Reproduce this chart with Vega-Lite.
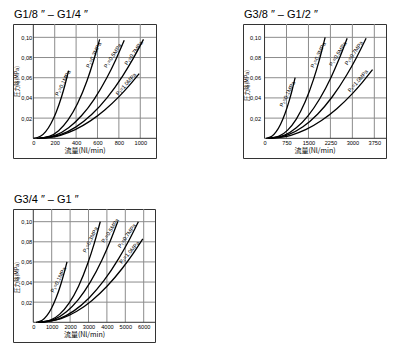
{
  "$schema": "https://vega.github.io/schema/vega-lite/v6.json",
  "padding": {"left": 12, "top": 8, "right": 4, "bottom": 4},
  "bounds": "flush",
  "columns": 2,
  "spacing": {"row": 51, "column": 87},
  "config": {
    "view": {"stroke": "#333", "strokeWidth": 1},
    "axis": {"labelFont": "Liberation Sans Narrow, Liberation Sans, sans-serif", "labelFontSize": 5.6, "labelColor": "#000", "titleColor": "#000", "titleFont": "Noto Sans CJK JP", "titleFontWeight": "normal", "grid": false, "ticks": false, "domain": false, "labelFlush": false, "labelOverlap": false},
    "title": {"font": "Liberation Sans", "fontSize": 11, "fontWeight": "normal", "anchor": "start", "offset": 4, "color": "#000", "dx": 1}
  },
  "datasets": {
    "curves": [
      {"pn": "A", "p": 0.1, "x": 0, "y": 0}, {"pn": "A", "p": 0.1, "x": 66, "y": 0.002}, {"pn": "A", "p": 0.1, "x": 115.5, "y": 0.0067}, {"pn": "A", "p": 0.1, "x": 165, "y": 0.0147}, {"pn": "A", "p": 0.1, "x": 214.5, "y": 0.0261}, {"pn": "A", "p": 0.1, "x": 264, "y": 0.0411}, {"pn": "A", "p": 0.1, "x": 297, "y": 0.0533}, {"pn": "A", "p": 0.1, "x": 330, "y": 0.067},
      {"pn": "A", "p": 0.3, "x": 30, "y": 0}, {"pn": "A", "p": 0.3, "x": 148, "y": 0.002}, {"pn": "A", "p": 0.3, "x": 236.5, "y": 0.0076}, {"pn": "A", "p": 0.3, "x": 325, "y": 0.0182}, {"pn": "A", "p": 0.3, "x": 413.5, "y": 0.0344}, {"pn": "A", "p": 0.3, "x": 502, "y": 0.057}, {"pn": "A", "p": 0.3, "x": 561, "y": 0.076}, {"pn": "A", "p": 0.3, "x": 620, "y": 0.098},
      {"pn": "A", "p": 0.5, "x": 50, "y": 0}, {"pn": "A", "p": 0.5, "x": 210, "y": 0.0032}, {"pn": "A", "p": 0.5, "x": 330, "y": 0.0105}, {"pn": "A", "p": 0.5, "x": 450, "y": 0.0223}, {"pn": "A", "p": 0.5, "x": 570, "y": 0.0389}, {"pn": "A", "p": 0.5, "x": 690, "y": 0.0604}, {"pn": "A", "p": 0.5, "x": 770, "y": 0.0776}, {"pn": "A", "p": 0.5, "x": 850, "y": 0.097},
      {"pn": "A", "p": 0.7, "x": 60, "y": 0}, {"pn": "A", "p": 0.7, "x": 254, "y": 0.0036}, {"pn": "A", "p": 0.7, "x": 399.5, "y": 0.0113}, {"pn": "A", "p": 0.7, "x": 545, "y": 0.0235}, {"pn": "A", "p": 0.7, "x": 690.5, "y": 0.0403}, {"pn": "A", "p": 0.7, "x": 836, "y": 0.0619}, {"pn": "A", "p": 0.7, "x": 933, "y": 0.0789}, {"pn": "A", "p": 0.7, "x": 1030, "y": 0.098},
      {"pn": "A", "p": 1.0, "x": 70, "y": 0}, {"pn": "A", "p": 1.0, "x": 254, "y": 0.003}, {"pn": "A", "p": 1.0, "x": 392, "y": 0.0086}, {"pn": "A", "p": 1.0, "x": 530, "y": 0.017}, {"pn": "A", "p": 1.0, "x": 668, "y": 0.0281}, {"pn": "A", "p": 1.0, "x": 806, "y": 0.0418}, {"pn": "A", "p": 1.0, "x": 898, "y": 0.0524}, {"pn": "A", "p": 1.0, "x": 990, "y": 0.064},
      {"pn": "B", "p": 0.1, "x": 50, "y": 0}, {"pn": "B", "p": 0.1, "x": 249, "y": 0.002}, {"pn": "B", "p": 0.1, "x": 398, "y": 0.0066}, {"pn": "B", "p": 0.1, "x": 547.5, "y": 0.014}, {"pn": "B", "p": 0.1, "x": 697, "y": 0.0243}, {"pn": "B", "p": 0.1, "x": 846, "y": 0.0376}, {"pn": "B", "p": 0.1, "x": 945.5, "y": 0.0481}, {"pn": "B", "p": 0.1, "x": 1045, "y": 0.06},
      {"pn": "B", "p": 0.3, "x": 100, "y": 0}, {"pn": "B", "p": 0.3, "x": 494, "y": 0.0021}, {"pn": "B", "p": 0.3, "x": 789.5, "y": 0.0081}, {"pn": "B", "p": 0.3, "x": 1085, "y": 0.019}, {"pn": "B", "p": 0.3, "x": 1380.5, "y": 0.0356}, {"pn": "B", "p": 0.3, "x": 1676, "y": 0.0586}, {"pn": "B", "p": 0.3, "x": 1873, "y": 0.0777}, {"pn": "B", "p": 0.3, "x": 2070, "y": 0.1},
      {"pn": "B", "p": 0.5, "x": 150, "y": 0}, {"pn": "B", "p": 0.5, "x": 684, "y": 0.0031}, {"pn": "B", "p": 0.5, "x": 1084.5, "y": 0.0104}, {"pn": "B", "p": 0.5, "x": 1485, "y": 0.0223}, {"pn": "B", "p": 0.5, "x": 1885.5, "y": 0.0392}, {"pn": "B", "p": 0.5, "x": 2286, "y": 0.0613}, {"pn": "B", "p": 0.5, "x": 2553, "y": 0.079}, {"pn": "B", "p": 0.5, "x": 2820, "y": 0.099},
      {"pn": "B", "p": 0.7, "x": 150, "y": 0}, {"pn": "B", "p": 0.7, "x": 814, "y": 0.0037}, {"pn": "B", "p": 0.7, "x": 1312, "y": 0.0115}, {"pn": "B", "p": 0.7, "x": 1810, "y": 0.0239}, {"pn": "B", "p": 0.7, "x": 2308, "y": 0.0409}, {"pn": "B", "p": 0.7, "x": 2806, "y": 0.0627}, {"pn": "B", "p": 0.7, "x": 3138, "y": 0.0798}, {"pn": "B", "p": 0.7, "x": 3470, "y": 0.099},
      {"pn": "B", "p": 1.0, "x": 200, "y": 0}, {"pn": "B", "p": 1.0, "x": 898, "y": 0.003}, {"pn": "B", "p": 1.0, "x": 1421.5, "y": 0.0088}, {"pn": "B", "p": 1.0, "x": 1945, "y": 0.0176}, {"pn": "B", "p": 1.0, "x": 2468.5, "y": 0.0293}, {"pn": "B", "p": 1.0, "x": 2992, "y": 0.044}, {"pn": "B", "p": 1.0, "x": 3341, "y": 0.0554}, {"pn": "B", "p": 1.0, "x": 3690, "y": 0.068},
      {"pn": "C", "p": 0.1, "x": 150, "y": 0}, {"pn": "C", "p": 0.1, "x": 486, "y": 0.002}, {"pn": "C", "p": 0.1, "x": 738, "y": 0.0066}, {"pn": "C", "p": 0.1, "x": 990, "y": 0.014}, {"pn": "C", "p": 0.1, "x": 1242, "y": 0.0243}, {"pn": "C", "p": 0.1, "x": 1494, "y": 0.0376}, {"pn": "C", "p": 0.1, "x": 1662, "y": 0.0481}, {"pn": "C", "p": 0.1, "x": 1830, "y": 0.06},
      {"pn": "C", "p": 0.3, "x": 250, "y": 0}, {"pn": "C", "p": 0.3, "x": 928, "y": 0.0021}, {"pn": "C", "p": 0.3, "x": 1436.5, "y": 0.0081}, {"pn": "C", "p": 0.3, "x": 1945, "y": 0.019}, {"pn": "C", "p": 0.3, "x": 2453.5, "y": 0.0356}, {"pn": "C", "p": 0.3, "x": 2962, "y": 0.0586}, {"pn": "C", "p": 0.3, "x": 3301, "y": 0.0777}, {"pn": "C", "p": 0.3, "x": 3640, "y": 0.1},
      {"pn": "C", "p": 0.5, "x": 300, "y": 0}, {"pn": "C", "p": 0.5, "x": 1158, "y": 0.0032}, {"pn": "C", "p": 0.5, "x": 1801.5, "y": 0.0105}, {"pn": "C", "p": 0.5, "x": 2445, "y": 0.0225}, {"pn": "C", "p": 0.5, "x": 3088.5, "y": 0.0396}, {"pn": "C", "p": 0.5, "x": 3732, "y": 0.0619}, {"pn": "C", "p": 0.5, "x": 4161, "y": 0.0798}, {"pn": "C", "p": 0.5, "x": 4590, "y": 0.1},
      {"pn": "C", "p": 0.7, "x": 350, "y": 0}, {"pn": "C", "p": 0.7, "x": 1422, "y": 0.0037}, {"pn": "C", "p": 0.7, "x": 2226, "y": 0.0116}, {"pn": "C", "p": 0.7, "x": 3030, "y": 0.0242}, {"pn": "C", "p": 0.7, "x": 3834, "y": 0.0413}, {"pn": "C", "p": 0.7, "x": 4638, "y": 0.0633}, {"pn": "C", "p": 0.7, "x": 5174, "y": 0.0806}, {"pn": "C", "p": 0.7, "x": 5710, "y": 0.1},
      {"pn": "C", "p": 1.0, "x": 400, "y": 0}, {"pn": "C", "p": 1.0, "x": 1510, "y": 0.0036}, {"pn": "C", "p": 1.0, "x": 2342.5, "y": 0.0107}, {"pn": "C", "p": 1.0, "x": 3175, "y": 0.0215}, {"pn": "C", "p": 1.0, "x": 4007.5, "y": 0.0358}, {"pn": "C", "p": 1.0, "x": 4840, "y": 0.0537}, {"pn": "C", "p": 1.0, "x": 5395, "y": 0.0676}, {"pn": "C", "p": 1.0, "x": 5950, "y": 0.083}
    ],
    "labels": [
      {"pn": "A", "p": 0.1, "t": "P₁=0.1MPa", "x": 275, "y": 0.0548},
      {"pn": "A", "p": 0.3, "t": "P₁=0.3MPa", "x": 564, "y": 0.0825},
      {"pn": "A", "p": 0.5, "t": "P₁=0.5MPa", "x": 742, "y": 0.0818},
      {"pn": "A", "p": 0.7, "t": "P₁=0.7MPa", "x": 938, "y": 0.0845},
      {"pn": "A", "p": 1.0, "t": "P₁=1.0MPa", "x": 866, "y": 0.0538},
      {"pn": "B", "p": 0.1, "t": "P₁=0.1MPa", "x": 774, "y": 0.0439},
      {"pn": "B", "p": 0.3, "t": "P₁=0.3MPa", "x": 1831, "y": 0.0825},
      {"pn": "B", "p": 0.5, "t": "P₁=0.5MPa", "x": 2502, "y": 0.0835},
      {"pn": "B", "p": 0.7, "t": "P₁=0.7MPa", "x": 3047, "y": 0.0845},
      {"pn": "B", "p": 1.0, "t": "P₁=1.0MPa", "x": 3184, "y": 0.057},
      {"pn": "C", "p": 0.1, "t": "P₁=0.1MPa", "x": 1359, "y": 0.0423},
      {"pn": "C", "p": 0.3, "t": "P₁=0.3MPa", "x": 3098, "y": 0.0821},
      {"pn": "C", "p": 0.5, "t": "P₁=0.5MPa", "x": 4170, "y": 0.0911},
      {"pn": "C", "p": 0.7, "t": "P₁=0.7MPa", "x": 5080, "y": 0.0861},
      {"pn": "C", "p": 1.0, "t": "P₁=1.0MPa", "x": 5217, "y": 0.0696}
    ]
  },
  "concat": [
    {
      "width": 143, "height": 134,
      "title": {"text": "G1/8 ″ – G1/4 ″"},
      "layer": [
        {"data": {"values": [{"x": 200}, {"x": 400}, {"x": 600}, {"x": 800}, {"x": 1000}]},
         "mark": {"type": "rule", "color": "#8c8c8c", "strokeWidth": 1},
         "encoding": {"x": {"field": "x", "type": "quantitative", "scale": {"domain": [-190, 1147], "nice": false, "zero": false}, "axis": {"values": [0, 200, 400, 600, 800, 1000], "format": "d", "offset": -19.7, "title": "流量(Nl/min)", "labelPadding": 2, "titlePadding": 1, "titleFontSize": 7}},
                      "y": {"datum": 0, "scale": {"domain": [-0.0195, 0.1132], "nice": false, "zero": false}, "axis": {"values": [0.02, 0.04, 0.06, 0.08, 0.1], "offset": -20.3, "labelPadding": 1.6, "labelExpr": "replace(format(datum.value, '.2f'), '.', ',')", "title": "圧力降(MPa)", "titleFontSize": 5.5, "titleX": -17, "titleY": 57, "titleAngle": -90, "titleBaseline": "middle", "titleAlign": "center"}}, "y2": {"datum": 0.1132}}},
        {"data": {"values": [{"y": 0.02}, {"y": 0.04}, {"y": 0.06}, {"y": 0.08}, {"y": 0.1}]},
         "mark": {"type": "rule", "color": "#8c8c8c", "strokeWidth": 1},
         "encoding": {"y": {"field": "y", "type": "quantitative", "scale": {"domain": [-0.0195, 0.1132], "nice": false, "zero": false}, "axis": {"values": [0.02, 0.04, 0.06, 0.08, 0.1], "offset": -20.3, "labelPadding": 1.6, "labelExpr": "replace(format(datum.value, '.2f'), '.', ',')", "title": "圧力降(MPa)", "titleFontSize": 5.5, "titleX": -17, "titleY": 57, "titleAngle": -90, "titleBaseline": "middle", "titleAlign": "center"}},
                      "x": {"datum": 0, "scale": {"domain": [-190, 1147], "nice": false, "zero": false}, "axis": {"values": [0, 200, 400, 600, 800, 1000], "format": "d", "offset": -19.7, "title": "流量(Nl/min)", "labelPadding": 2, "titlePadding": 1, "titleFontSize": 7}}, "x2": {"datum": 1147}}},
        {"data": {"values": [{"x": 0}]},
         "mark": {"type": "rule", "color": "#333", "strokeWidth": 1},
         "encoding": {"x": {"field": "x", "type": "quantitative", "scale": {"domain": [-190, 1147], "nice": false, "zero": false}, "axis": {"values": [0, 200, 400, 600, 800, 1000], "format": "d", "offset": -19.7, "title": "流量(Nl/min)", "labelPadding": 2, "titlePadding": 1, "titleFontSize": 7}},
                      "y": {"datum": 0, "scale": {"domain": [-0.0195, 0.1132], "nice": false, "zero": false}, "axis": {"values": [0.02, 0.04, 0.06, 0.08, 0.1], "offset": -20.3, "labelPadding": 1.6, "labelExpr": "replace(format(datum.value, '.2f'), '.', ',')", "title": "圧力降(MPa)", "titleFontSize": 5.5, "titleX": -17, "titleY": 57, "titleAngle": -90, "titleBaseline": "middle", "titleAlign": "center"}}, "y2": {"datum": 0.1132}}},
        {"data": {"values": [{"y": 0}]},
         "mark": {"type": "rule", "color": "#333", "strokeWidth": 1},
         "encoding": {"y": {"field": "y", "type": "quantitative", "scale": {"domain": [-0.0195, 0.1132], "nice": false, "zero": false}, "axis": {"values": [0.02, 0.04, 0.06, 0.08, 0.1], "offset": -20.3, "labelPadding": 1.6, "labelExpr": "replace(format(datum.value, '.2f'), '.', ',')", "title": "圧力降(MPa)", "titleFontSize": 5.5, "titleX": -17, "titleY": 57, "titleAngle": -90, "titleBaseline": "middle", "titleAlign": "center"}},
                      "x": {"datum": 0, "scale": {"domain": [-190, 1147], "nice": false, "zero": false}, "axis": {"values": [0, 200, 400, 600, 800, 1000], "format": "d", "offset": -19.7, "title": "流量(Nl/min)", "labelPadding": 2, "titlePadding": 1, "titleFontSize": 7}}, "x2": {"datum": 1147}}},
        {"data": {"name": "curves"}, "transform": [{"filter": "datum.pn == 'A'"}],
         "mark": {"type": "line", "color": "#000", "strokeWidth": 1.3, "interpolate": "monotone"},
         "encoding": {
           "x": {"field": "x", "type": "quantitative", "scale": {"domain": [-190, 1147], "nice": false, "zero": false}, "axis": {"values": [0, 200, 400, 600, 800, 1000], "format": "d", "offset": -19.7, "title": "流量(Nl/min)", "labelPadding": 2, "titlePadding": 1, "titleFontSize": 7}},
           "y": {"field": "y", "type": "quantitative", "scale": {"domain": [-0.0195, 0.1132], "nice": false, "zero": false}, "axis": {"values": [0.02, 0.04, 0.06, 0.08, 0.1], "offset": -20.3, "labelPadding": 1.6, "labelExpr": "replace(format(datum.value, '.2f'), '.', ',')", "title": "圧力降(MPa)", "titleFontSize": 5.5, "titleX": -17, "titleY": 57, "titleAngle": -90, "titleBaseline": "middle", "titleAlign": "center"}},
           "detail": {"field": "p", "type": "nominal"}}},
        {"data": {"name": "labels"}, "transform": [{"filter": "datum.pn == 'A'"}],
         "mark": {"type": "text", "font": "Liberation Sans Narrow, Liberation Sans, sans-serif", "fontSize": 5.5, "align": "center", "baseline": "middle", "color": "#000"},
         "encoding": {
           "x": {"field": "x", "type": "quantitative", "scale": {"domain": [-190, 1147], "nice": false, "zero": false}, "axis": {"values": [0, 200, 400, 600, 800, 1000], "format": "d", "offset": -19.7, "title": "流量(Nl/min)", "labelPadding": 2, "titlePadding": 1, "titleFontSize": 7}},
           "y": {"field": "y", "type": "quantitative", "scale": {"domain": [-0.0195, 0.1132], "nice": false, "zero": false}, "axis": {"values": [0.02, 0.04, 0.06, 0.08, 0.1], "offset": -20.3, "labelPadding": 1.6, "labelExpr": "replace(format(datum.value, '.2f'), '.', ',')", "title": "圧力降(MPa)", "titleFontSize": 5.5, "titleX": -17, "titleY": 57, "titleAngle": -90, "titleBaseline": "middle", "titleAlign": "center"}},
           "text": {"field": "t"},
           "angle": {"field": "p", "type": "quantitative", "scale": {"domain": [0.1, 0.3, 0.5, 0.7, 1.0], "range": [-63, -64, -57, -55, -49]}, "legend": null}}}
      ]
    },
    {
      "width": 143, "height": 134,
      "title": {"text": "G3/8 ″ – G1/2 ″"},
      "layer": [
        {"data": {"values": [{"x": 750}, {"x": 1500}, {"x": 2250}, {"x": 3000}, {"x": 3750}]},
         "mark": {"type": "rule", "color": "#8c8c8c", "strokeWidth": 1},
         "encoding": {"x": {"field": "x", "type": "quantitative", "scale": {"domain": [-736, 4149], "nice": false, "zero": false}, "axis": {"values": [0, 750, 1500, 2250, 3000, 3750], "format": "d", "offset": -19.7, "title": "流量(Nl/min)", "labelPadding": 2, "titlePadding": 1, "titleFontSize": 7}},
                      "y": {"datum": 0, "scale": {"domain": [-0.0195, 0.1132], "nice": false, "zero": false}, "axis": {"values": [0.02, 0.04, 0.06, 0.08, 0.1], "offset": -21.5, "labelPadding": 4, "labelExpr": "replace(format(datum.value, '.2f'), '.', ',')", "title": "圧力降(MPa)", "titleFontSize": 5.5, "titleX": -18.5, "titleY": 61, "titleAngle": -90, "titleBaseline": "middle", "titleAlign": "center"}}, "y2": {"datum": 0.1132}}},
        {"data": {"values": [{"y": 0.02}, {"y": 0.04}, {"y": 0.06}, {"y": 0.08}, {"y": 0.1}]},
         "mark": {"type": "rule", "color": "#8c8c8c", "strokeWidth": 1},
         "encoding": {"y": {"field": "y", "type": "quantitative", "scale": {"domain": [-0.0195, 0.1132], "nice": false, "zero": false}, "axis": {"values": [0.02, 0.04, 0.06, 0.08, 0.1], "offset": -21.5, "labelPadding": 4, "labelExpr": "replace(format(datum.value, '.2f'), '.', ',')", "title": "圧力降(MPa)", "titleFontSize": 5.5, "titleX": -18.5, "titleY": 61, "titleAngle": -90, "titleBaseline": "middle", "titleAlign": "center"}},
                      "x": {"datum": 0, "scale": {"domain": [-736, 4149], "nice": false, "zero": false}, "axis": {"values": [0, 750, 1500, 2250, 3000, 3750], "format": "d", "offset": -19.7, "title": "流量(Nl/min)", "labelPadding": 2, "titlePadding": 1, "titleFontSize": 7}}, "x2": {"datum": 4149}}},
        {"data": {"values": [{"x": 0}]},
         "mark": {"type": "rule", "color": "#333", "strokeWidth": 1},
         "encoding": {"x": {"field": "x", "type": "quantitative", "scale": {"domain": [-736, 4149], "nice": false, "zero": false}, "axis": {"values": [0, 750, 1500, 2250, 3000, 3750], "format": "d", "offset": -19.7, "title": "流量(Nl/min)", "labelPadding": 2, "titlePadding": 1, "titleFontSize": 7}},
                      "y": {"datum": 0, "scale": {"domain": [-0.0195, 0.1132], "nice": false, "zero": false}, "axis": {"values": [0.02, 0.04, 0.06, 0.08, 0.1], "offset": -21.5, "labelPadding": 4, "labelExpr": "replace(format(datum.value, '.2f'), '.', ',')", "title": "圧力降(MPa)", "titleFontSize": 5.5, "titleX": -18.5, "titleY": 61, "titleAngle": -90, "titleBaseline": "middle", "titleAlign": "center"}}, "y2": {"datum": 0.1132}}},
        {"data": {"values": [{"y": 0}]},
         "mark": {"type": "rule", "color": "#333", "strokeWidth": 1},
         "encoding": {"y": {"field": "y", "type": "quantitative", "scale": {"domain": [-0.0195, 0.1132], "nice": false, "zero": false}, "axis": {"values": [0.02, 0.04, 0.06, 0.08, 0.1], "offset": -21.5, "labelPadding": 4, "labelExpr": "replace(format(datum.value, '.2f'), '.', ',')", "title": "圧力降(MPa)", "titleFontSize": 5.5, "titleX": -18.5, "titleY": 61, "titleAngle": -90, "titleBaseline": "middle", "titleAlign": "center"}},
                      "x": {"datum": 0, "scale": {"domain": [-736, 4149], "nice": false, "zero": false}, "axis": {"values": [0, 750, 1500, 2250, 3000, 3750], "format": "d", "offset": -19.7, "title": "流量(Nl/min)", "labelPadding": 2, "titlePadding": 1, "titleFontSize": 7}}, "x2": {"datum": 4149}}},
        {"data": {"name": "curves"}, "transform": [{"filter": "datum.pn == 'B'"}],
         "mark": {"type": "line", "color": "#000", "strokeWidth": 1.3, "interpolate": "monotone"},
         "encoding": {
           "x": {"field": "x", "type": "quantitative", "scale": {"domain": [-736, 4149], "nice": false, "zero": false}, "axis": {"values": [0, 750, 1500, 2250, 3000, 3750], "format": "d", "offset": -19.7, "title": "流量(Nl/min)", "labelPadding": 2, "titlePadding": 1, "titleFontSize": 7}},
           "y": {"field": "y", "type": "quantitative", "scale": {"domain": [-0.0195, 0.1132], "nice": false, "zero": false}, "axis": {"values": [0.02, 0.04, 0.06, 0.08, 0.1], "offset": -21.5, "labelPadding": 4, "labelExpr": "replace(format(datum.value, '.2f'), '.', ',')", "title": "圧力降(MPa)", "titleFontSize": 5.5, "titleX": -18.5, "titleY": 61, "titleAngle": -90, "titleBaseline": "middle", "titleAlign": "center"}},
           "detail": {"field": "p", "type": "nominal"}}},
        {"data": {"name": "labels"}, "transform": [{"filter": "datum.pn == 'B'"}],
         "mark": {"type": "text", "font": "Liberation Sans Narrow, Liberation Sans, sans-serif", "fontSize": 5.5, "align": "center", "baseline": "middle", "color": "#000"},
         "encoding": {
           "x": {"field": "x", "type": "quantitative", "scale": {"domain": [-736, 4149], "nice": false, "zero": false}, "axis": {"values": [0, 750, 1500, 2250, 3000, 3750], "format": "d", "offset": -19.7, "title": "流量(Nl/min)", "labelPadding": 2, "titlePadding": 1, "titleFontSize": 7}},
           "y": {"field": "y", "type": "quantitative", "scale": {"domain": [-0.0195, 0.1132], "nice": false, "zero": false}, "axis": {"values": [0.02, 0.04, 0.06, 0.08, 0.1], "offset": -21.5, "labelPadding": 4, "labelExpr": "replace(format(datum.value, '.2f'), '.', ',')", "title": "圧力降(MPa)", "titleFontSize": 5.5, "titleX": -18.5, "titleY": 61, "titleAngle": -90, "titleBaseline": "middle", "titleAlign": "center"}},
           "text": {"field": "t"},
           "angle": {"field": "p", "type": "quantitative", "scale": {"domain": [0.1, 0.3, 0.5, 0.7, 1.0], "range": [-63, -66, -61, -55, -49]}, "legend": null}}}
      ]
    },
    {
      "width": 142, "height": 133,
      "title": {"text": "G3/4 ″ – G1 ″"},
      "layer": [
        {"data": {"values": [{"x": 1000}, {"x": 2000}, {"x": 3000}, {"x": 4000}, {"x": 5000}, {"x": 6000}]},
         "mark": {"type": "rule", "color": "#8c8c8c", "strokeWidth": 1},
         "encoding": {"x": {"field": "x", "type": "quantitative", "scale": {"domain": [-1103, 6614], "nice": false, "zero": false}, "axis": {"values": [0, 1000, 2000, 3000, 4000, 5000, 6000], "format": "d", "offset": -19.7, "title": "流量(Nl/min)", "labelPadding": 2, "titlePadding": 1, "titleFontSize": 7}},
                      "y": {"datum": 0, "scale": {"domain": [-0.0196, 0.1126], "nice": false, "zero": false}, "axis": {"values": [0.02, 0.04, 0.06, 0.08, 0.1], "offset": -20.3, "labelPadding": 1.6, "labelExpr": "replace(format(datum.value, '.2f'), '.', ',')", "title": "圧力降(MPa)", "titleFontSize": 5.5, "titleX": -17, "titleY": 68, "titleAngle": -90, "titleBaseline": "middle", "titleAlign": "center"}}, "y2": {"datum": 0.1126}}},
        {"data": {"values": [{"y": 0.02}, {"y": 0.04}, {"y": 0.06}, {"y": 0.08}, {"y": 0.1}]},
         "mark": {"type": "rule", "color": "#8c8c8c", "strokeWidth": 1},
         "encoding": {"y": {"field": "y", "type": "quantitative", "scale": {"domain": [-0.0196, 0.1126], "nice": false, "zero": false}, "axis": {"values": [0.02, 0.04, 0.06, 0.08, 0.1], "offset": -20.3, "labelPadding": 1.6, "labelExpr": "replace(format(datum.value, '.2f'), '.', ',')", "title": "圧力降(MPa)", "titleFontSize": 5.5, "titleX": -17, "titleY": 68, "titleAngle": -90, "titleBaseline": "middle", "titleAlign": "center"}},
                      "x": {"datum": 0, "scale": {"domain": [-1103, 6614], "nice": false, "zero": false}, "axis": {"values": [0, 1000, 2000, 3000, 4000, 5000, 6000], "format": "d", "offset": -19.7, "title": "流量(Nl/min)", "labelPadding": 2, "titlePadding": 1, "titleFontSize": 7}}, "x2": {"datum": 6614}}},
        {"data": {"values": [{"x": 0}]},
         "mark": {"type": "rule", "color": "#333", "strokeWidth": 1},
         "encoding": {"x": {"field": "x", "type": "quantitative", "scale": {"domain": [-1103, 6614], "nice": false, "zero": false}, "axis": {"values": [0, 1000, 2000, 3000, 4000, 5000, 6000], "format": "d", "offset": -19.7, "title": "流量(Nl/min)", "labelPadding": 2, "titlePadding": 1, "titleFontSize": 7}},
                      "y": {"datum": 0, "scale": {"domain": [-0.0196, 0.1126], "nice": false, "zero": false}, "axis": {"values": [0.02, 0.04, 0.06, 0.08, 0.1], "offset": -20.3, "labelPadding": 1.6, "labelExpr": "replace(format(datum.value, '.2f'), '.', ',')", "title": "圧力降(MPa)", "titleFontSize": 5.5, "titleX": -17, "titleY": 68, "titleAngle": -90, "titleBaseline": "middle", "titleAlign": "center"}}, "y2": {"datum": 0.1126}}},
        {"data": {"values": [{"y": 0}]},
         "mark": {"type": "rule", "color": "#333", "strokeWidth": 1},
         "encoding": {"y": {"field": "y", "type": "quantitative", "scale": {"domain": [-0.0196, 0.1126], "nice": false, "zero": false}, "axis": {"values": [0.02, 0.04, 0.06, 0.08, 0.1], "offset": -20.3, "labelPadding": 1.6, "labelExpr": "replace(format(datum.value, '.2f'), '.', ',')", "title": "圧力降(MPa)", "titleFontSize": 5.5, "titleX": -17, "titleY": 68, "titleAngle": -90, "titleBaseline": "middle", "titleAlign": "center"}},
                      "x": {"datum": 0, "scale": {"domain": [-1103, 6614], "nice": false, "zero": false}, "axis": {"values": [0, 1000, 2000, 3000, 4000, 5000, 6000], "format": "d", "offset": -19.7, "title": "流量(Nl/min)", "labelPadding": 2, "titlePadding": 1, "titleFontSize": 7}}, "x2": {"datum": 6614}}},
        {"data": {"name": "curves"}, "transform": [{"filter": "datum.pn == 'C'"}],
         "mark": {"type": "line", "color": "#000", "strokeWidth": 1.3, "interpolate": "monotone"},
         "encoding": {
           "x": {"field": "x", "type": "quantitative", "scale": {"domain": [-1103, 6614], "nice": false, "zero": false}, "axis": {"values": [0, 1000, 2000, 3000, 4000, 5000, 6000], "format": "d", "offset": -19.7, "title": "流量(Nl/min)", "labelPadding": 2, "titlePadding": 1, "titleFontSize": 7}},
           "y": {"field": "y", "type": "quantitative", "scale": {"domain": [-0.0196, 0.1126], "nice": false, "zero": false}, "axis": {"values": [0.02, 0.04, 0.06, 0.08, 0.1], "offset": -20.3, "labelPadding": 1.6, "labelExpr": "replace(format(datum.value, '.2f'), '.', ',')", "title": "圧力降(MPa)", "titleFontSize": 5.5, "titleX": -17, "titleY": 68, "titleAngle": -90, "titleBaseline": "middle", "titleAlign": "center"}},
           "detail": {"field": "p", "type": "nominal"}}},
        {"data": {"name": "labels"}, "transform": [{"filter": "datum.pn == 'C'"}],
         "mark": {"type": "text", "font": "Liberation Sans Narrow, Liberation Sans, sans-serif", "fontSize": 5.5, "align": "center", "baseline": "middle", "color": "#000"},
         "encoding": {
           "x": {"field": "x", "type": "quantitative", "scale": {"domain": [-1103, 6614], "nice": false, "zero": false}, "axis": {"values": [0, 1000, 2000, 3000, 4000, 5000, 6000], "format": "d", "offset": -19.7, "title": "流量(Nl/min)", "labelPadding": 2, "titlePadding": 1, "titleFontSize": 7}},
           "y": {"field": "y", "type": "quantitative", "scale": {"domain": [-0.0196, 0.1126], "nice": false, "zero": false}, "axis": {"values": [0.02, 0.04, 0.06, 0.08, 0.1], "offset": -20.3, "labelPadding": 1.6, "labelExpr": "replace(format(datum.value, '.2f'), '.', ',')", "title": "圧力降(MPa)", "titleFontSize": 5.5, "titleX": -17, "titleY": 68, "titleAngle": -90, "titleBaseline": "middle", "titleAlign": "center"}},
           "text": {"field": "t"},
           "angle": {"field": "p", "type": "quantitative", "scale": {"domain": [0.1, 0.3, 0.5, 0.7, 1.0], "range": [-65, -62, -50, -48, -48]}, "legend": null}}}
      ]
    }
  ]
}
